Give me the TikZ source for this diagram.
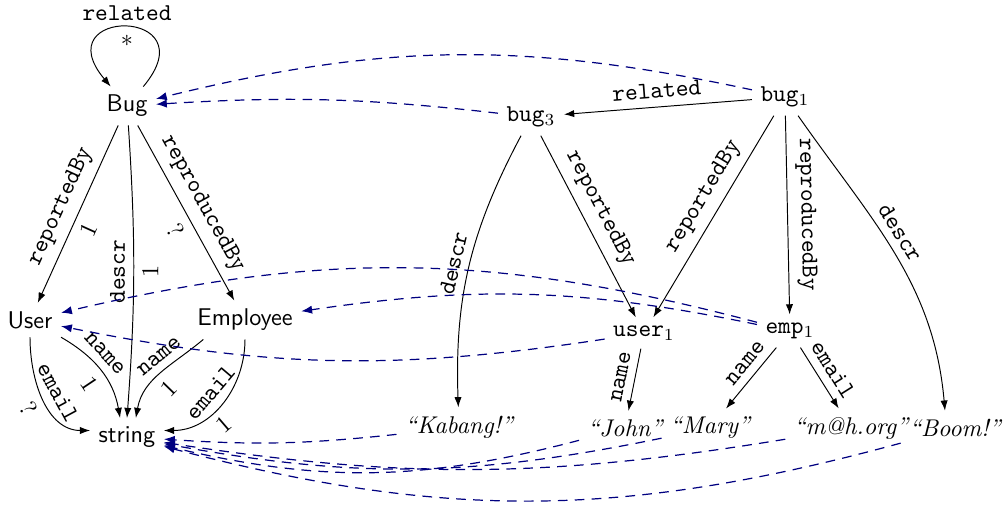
\documentclass[tikz,border=0pt]{standalone}
\usetikzlibrary{arrows.meta}
\definecolor{navyblue}{RGB}{0,0,128}
\begin{document}
\begin{tikzpicture}[x=0.4132pt,y=0.4132pt,
  cls/.style={font=\sffamily},
  obj/.style={font=\ttfamily},
  val/.style={font=\itshape},
  lab/.style={font=\ttfamily,sloped},
  mul/.style={sloped},
  rel/.style={-{Latex[length=4.2pt,width=3pt]}},
  inst/.style={navyblue,line width=0.5pt,dash pattern=on 4pt off 3pt,-{Latex[length=4.5pt,width=3.4pt]}}
]
\useasboundingbox (0,0) rectangle (1005,-514);
% class nodes
\node[cls] (Bug) at (127,-106) {Bug};
\node[cls] (User) at (30,-320) {User};
\node[cls] (Emp) at (245,-320) {Employee};
\node[cls] (str) at (127,-437) {string};
% object nodes
\node[obj] (bug3) at (531,-117) {bug$_3$};
\node[obj] (bug1) at (785,-97) {bug$_1$};
\node[obj] (user1) at (644,-333) {user$_1$};
\node[obj] (emp1) at (790,-331) {emp$_1$};
\node[val] (kab) at (459,-427) {“Kabang!”};
\node[val] (john) at (625,-428) {“John”};
\node[val] (mary) at (710,-428) {“Mary”};
\node[val] (mail) at (851,-428) {“m@h.org”};
\node[val] (boom) at (955,-428) {“Boom!”};
% schema edges
\draw[rel] (Bug.50) .. controls +(50:104) and +(130:104) .. node[above,pos=.5,font=\ttfamily,inner sep=2.5pt]{related} node[below,pos=.5]{$*$} (Bug.130);
\draw[rel] (Bug) -- node[lab,above]{reportedBy} node[mul,below,pos=.55]{1} (User);
\draw[rel] (Bug) to[bend left=4] node[midway,rotate=90,anchor=south,font=\ttfamily]{descr} node[midway,rotate=90,anchor=north]{1} (str.90);
\draw[rel] (Bug) -- node[lab,above]{reproducedBy} node[mul,below,pos=.55]{?} (Emp);
\draw[rel] (User.south) to[out=-90,in=180] node[lab,above]{email} node[mul,below]{?} (str.170);
\draw[rel] (User.south east) to[out=-30,in=100] node[lab,above,pos=.4]{name} node[mul,below,pos=.55]{1} (str.110);
\draw[rel] (Emp.-155) to[out=-140,in=80] node[lab,above,pos=.4]{name} node[mul,below,pos=.55]{1} (str.65);
\draw[rel] (Emp.south) to[out=-90,in=0] node[lab,above]{email} node[mul,below,pos=.6]{1} (str.10);
% object edges
\draw[rel] (bug1) -- node[lab,above]{related} (bug3);
\draw[rel] (bug3) -- node[lab,above,pos=.45]{reportedBy} (user1);
\draw[rel] (bug3) to[bend right=15] node[lab,above]{descr} (kab);
\draw[rel] (bug1) -- node[lab,above,pos=.45]{reportedBy} (user1);
\draw[rel] (bug1) -- node[lab,above]{reproducedBy} (emp1);
\draw[rel] (bug1) to[out=-55,in=95] node[lab,above,pos=.45]{descr} (boom.120);
\draw[rel] (user1) -- node[lab,above]{name} (john);
\draw[rel] (emp1) -- node[lab,above,pos=.4]{name} (mary);
\draw[rel] (emp1) -- node[lab,above]{email} (mail);
% instance-of edges
\draw[inst] (bug1) to[bend right=13] (Bug);
\draw[inst] (bug3) to[bend right=5] (Bug);
\draw[inst] (emp1) to[bend right=14] (User);
\draw[inst] (emp1) to[bend right=10] (Emp);
\draw[inst] (user1) to[bend left=10] (User);
\draw[inst] (kab) to[bend left=5] (str);
\draw[inst] (john) to[bend left=14] (str);
\draw[inst] (mary) to[bend left=11] (str);
\draw[inst] (mail) to[bend left=9] (str);
\draw[inst] (boom) to[bend left=15] (str);
\end{tikzpicture}
\end{document}
